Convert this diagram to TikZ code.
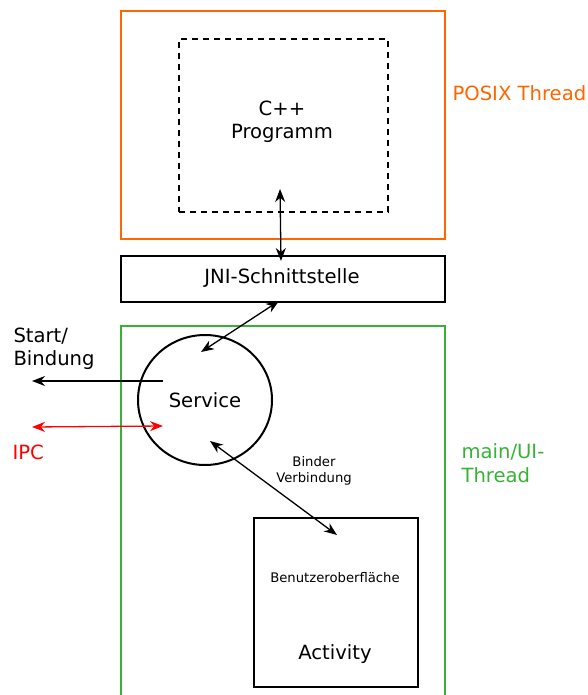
\documentclass[tikz,border=0pt]{standalone}
\usepackage{fontspec}
\setmainfont{DejaVu Sans}
\usetikzlibrary{arrows.meta,shapes.geometric}
\definecolor{posixorange}{RGB}{255,102,0}
\definecolor{uigreen}{RGB}{55,178,55}
\tikzset{
  box/.style={draw, rectangle, inner sep=0pt, anchor=north west},
  big/.style={font=\fontsize{19.6}{23.5}\selectfont, align=center},
  small/.style={font=\fontsize{13.2}{16}\selectfont, align=center},
  tip/.style={Stealth[length=13pt,width=10pt]},
  conn/.style={line width=1.3pt, {Stealth[length=13pt,width=10pt]}-{Stealth[length=13pt,width=10pt]}},
  oneway/.style={line width=1.3pt, -{Stealth[length=13pt,width=10pt]}},
}
\begin{document}
\begin{tikzpicture}[x=1pt, y=-1pt]
\useasboundingbox (0,0) rectangle (587,695);

% POSIX thread with the native program
\node[box, draw=posixorange, line width=2.2pt, minimum width=324pt, minimum height=228pt] (posix) at (120,10) {};
\node[box, dash pattern=on 6pt off 5pt, line width=1.6pt, minimum width=209pt, minimum height=173pt] (cpp) at (178,38) {};
\node[big] (cpptext) at (282,122) {C++\\Programm};
\node[big, text=posixorange, anchor=west] (posixlabel) at (449,93) {POSIX Thread};

% JNI layer
\node[box, line width=2.2pt, minimum width=324pt, minimum height=46pt] (jni) at (120,255) {};
\node[big] (jnitext) at (282,278) {JNI-Schnittstelle};

% main/UI thread (continues below the page edge)
\node[box, draw=uigreen, line width=2.2pt, minimum width=324pt, minimum height=400pt] (ui) at (120,325) {};
\node[big, text=uigreen, align=left, anchor=west] (uilabel) at (458,463) {main/UI-\\Thread};

% Service
\node[draw, ellipse, line width=2pt, minimum width=134pt, minimum height=130pt, inner sep=0pt] (service) at (205,400) {};
\node[big] (servicetext) at (205,400) {Service};

% Activity
\node[box, line width=2pt, minimum width=164pt, minimum height=169pt] (activity) at (253,517) {};
\node[small] (ui-text) at (335,578) {Benutzeroberfläche};
\node[big] (acttext) at (335,654) {Activity};

% outside labels
\node[big, align=left, anchor=west] (startlabel) at (10,349) {Start/\\Bindung};
\node[big, text=red, anchor=west] (ipclabel) at (9,452) {IPC};
\node[small] (binderlabel) at (314,471) {Binder\\Verbindung};

% connector end points
\coordinate (cppend) at (280,189);
\coordinate (jnitop) at (281,261);
\coordinate (jnibot) at (279,301);
\coordinate (servtop) at (201,352);
\coordinate (servleft) at (163,381);
\coordinate (startend) at (32,381);
\coordinate (ipcout) at (32,427);
\coordinate (ipcin) at (163,426);
\coordinate (servlow) at (210,441);
\coordinate (actin) at (337,535);

\draw[conn] (cppend) -- (jnitop);
\draw[conn] (jnibot) -- (servtop);
\draw[oneway] (servleft) -- (startend);
\draw[conn, red] (ipcout) -- (ipcin);
\draw[conn] (servlow) -- (actin);
\end{tikzpicture}
\end{document}
